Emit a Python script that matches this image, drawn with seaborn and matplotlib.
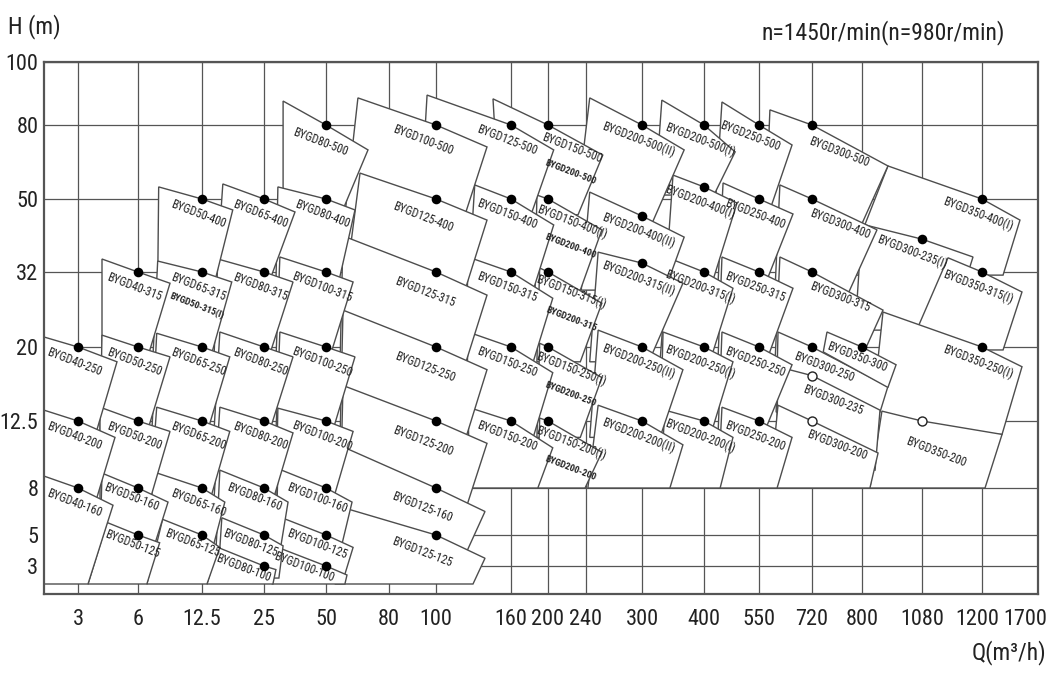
import numpy as np
import matplotlib
matplotlib.use("Agg")
import matplotlib.pyplot as plt
import matplotlib.transforms as mtransforms
import seaborn as sns

# grid values of the selection chart
q_ticks = [3, 6, 12.5, 25, 50, 80, 100, 160, 200, 240, 300, 400, 550, 720, 800, 1080, 1200, 1700]
q_labels = ["3", "6", "12.5", "25", "50", "80", "100", "160", "200", "240", "300", "400",
            "550", "720", "800", "1080", "1200", "1700"]
h_ticks = [3, 5, 8, 12.5, 20, 32, 50, 80, 100]
h_labels = ["3", "5", "8", "12.5", "20", "32", "50", "80", "100"]

# pump models, in drawing order (later ones lie on top)
pump_names = [
    "BYGD350-400(I)", "BYGD300-235(I)", "BYGD350-315(I)", "BYGD350-250(I)", "BYGD350-200",
    "BYGD300-500", "BYGD300-400", "BYGD300-315", "BYGD300-250", "BYGD350-300", "BYGD300-235", "BYGD300-200",
    "BYGD250-500", "BYGD250-400", "BYGD250-315", "BYGD250-250", "BYGD250-200",
    "BYGD200-500(I)", "BYGD200-400(I)", "BYGD200-315(I)", "BYGD200-250(I)", "BYGD200-200(I)",
    "BYGD200-500(II)", "BYGD200-400(II)", "BYGD200-315(II)", "BYGD200-250(II)", "BYGD200-200(II)",
    "BYGD150-500", "BYGD150-400(I)", "BYGD150-315(I)", "BYGD150-250(I)", "BYGD150-200(I)",
    "BYGD125-500", "BYGD150-400", "BYGD150-315", "BYGD150-250", "BYGD150-200",
    "BYGD100-500", "BYGD125-400", "BYGD125-315", "BYGD125-250", "BYGD125-200", "BYGD125-160", "BYGD125-125",
    "BYGD80-500", "BYGD80-400", "BYGD100-315", "BYGD100-250", "BYGD100-200", "BYGD100-160", "BYGD100-125", "BYGD100-100",
    "BYGD65-400", "BYGD80-315", "BYGD80-250", "BYGD80-200", "BYGD80-160", "BYGD80-125", "BYGD80-100",
    "BYGD50-400", "BYGD65-315", "BYGD65-250", "BYGD65-200", "BYGD65-160", "BYGD65-125",
    "BYGD40-315", "BYGD50-250", "BYGD50-200", "BYGD50-160", "BYGD50-125",
    "BYGD40-250", "BYGD40-200", "BYGD40-160",
]

# second model sharing the same tile
sub_names = {
    "BYGD150-500": "BYGD200-500", "BYGD150-400(I)": "BYGD200-400", "BYGD150-315(I)": "BYGD200-315",
    "BYGD150-250(I)": "BYGD200-250", "BYGD150-200(I)": "BYGD200-200", "BYGD65-315": "BYGD50-315(I)",
}

# rated points (Q m3/h, H m)
duty_q = [1200, 1080, 1200, 1200, 1080,
          720, 720, 720, 720, 800, 720, 720,
          550, 550, 550, 550, 550,
          400, 400, 400, 400, 400,
          300, 300, 300, 300, 300,
          200, 200, 200, 200, 200,
          160, 160, 160, 160, 160,
          100, 100, 100, 100, 100, 100, 100,
          50, 50, 50, 50, 50, 50, 50, 50,
          25, 25, 25, 25, 25, 25, 25,
          12.5, 12.5, 12.5, 12.5, 12.5, 12.5,
          6, 6, 6, 6, 6,
          3, 3, 3]
duty_h = [50, 40.1, 32, 20, 12.5,
          80, 50, 32, 20, 20, 17.1, 12.5,
          80, 50, 32, 20, 12.5,
          80, 54.9, 32, 20, 12.5,
          80, 45.8, 34.2, 20, 12.5,
          80, 50, 32, 20, 12.5,
          80, 50, 32, 20, 12.5,
          80, 50, 32, 20, 12.5, 8, 5,
          80, 50, 32, 20, 12.5, 8, 5, 3,
          50, 32, 20, 12.5, 8, 5, 3,
          50, 32, 20, 12.5, 8, 5,
          32, 20, 12.5, 8, 5,
          20, 12.5, 8]
open_points = ["BYGD350-200", "BYGD300-235", "BYGD300-200"]

# tile corners: top-left, top-right, bottom-right, bottom-left
box_q = [
    [921, 1539, 1388, 773], [800, 1182, 1136, 789], [1132, 1557, 1388, 1015], [898, 1557, 1379, 837],
    [893, 1379, 1227, 837],
    [585, 921, 794, 569], [617, 870, 779, 601], [617, 898, 794, 601], [611, 921, 884, 605],
    [744, 959, 921, 738], [611, 884, 861, 605], [611, 875, 837, 585],
    [449, 656, 585, 430], [452, 659, 569, 438], [449, 659, 573, 438], [449, 656, 560, 438], [449, 656, 608, 438],
    [332, 485, 427, 321], [350, 490, 416, 337], [342, 479, 416, 329], [334, 479, 416, 329], [337, 479, 444, 329],
    [244, 368, 315, 228], [244, 368, 337, 235], [253, 366, 311, 244], [253, 366, 329, 244], [253, 366, 345, 242],
    [145.6, 258, 231.6, 151], [188, 257, 234, 186], [191, 257, 234, 188], [191, 257, 234, 188], [191, 257, 239, 189],
    [96.2, 206, 181.6, 93.2], [131, 206, 184, 125.6], [125.6, 205, 184, 124], [125.6, 205, 184, 124],
    [125.6, 205, 189, 127],
    [65.2, 140.8, 123.2, 59], [66.2, 140.8, 123.2, 59], [58.1, 140.8, 124, 56.7], [58.1, 140.8, 124, 56.7],
    [58.1, 140.8, 124.8, 56.7], [54.3, 139.2, 121.6, 54.3], [54.3, 139.2, 129.6, 54.3],
    [32.7, 70, 57.6, 32.7], [30.6, 63.8, 55.7, 29.8], [31.4, 62.9, 51.4, 29.8], [31.4, 63.8, 52.9, 29.8],
    [30.6, 62.9, 53.3, 29.8], [30.6, 62.4, 56.7, 29.8], [31.4, 62.9, 58.1, 30.6], [30.6, 60, 59, 28.2],
    [16.7, 37.5, 26.6, 15.3], [15.7, 36.7, 26.6, 14.9], [16.1, 36.7, 27, 14.9], [16.1, 36.7, 28.6, 14.9],
    [16.1, 34.7, 31.4, 15.3], [16.5, 32.7, 31, 15.7], [15.7, 29.8, 28.6, 13.5],
    [8.1, 18.7, 14.9, 8.0], [8.0, 18.5, 14.1, 7.5], [7.9, 18.1, 13.5, 7.4], [7.9, 18.1, 14.1, 7.2],
    [7.5, 17.1, 14.7, 7.2], [8.5, 16.1, 13.5, 6.9],
    [4.2, 9.25, 6.9, 4.2], [4.2, 9.25, 6.9, 4.1], [4.1, 9.25, 7.2, 4.1], [4.2, 9.05, 7.6, 4.1], [4.45, 8.2, 6.9, 3.5],
    [2, 4.95, 3.9, 2], [2, 4.85, 3.9, 2], [2, 4.75, 3.5, 2],
]
box_h = [
    [63.4, 44.8, 31.5, 31.5], [43.8, 35.7, 22.7, 22.7], [35.5, 28.8, 19.7, 19.7], [25.6, 18.0, 11.6, 11.6],
    [13.5, 11.6, 8, 8],
    [84.8, 63.4, 41.9, 41.9], [55.7, 42.4, 28.8, 28.8], [35.7, 25.9, 18.2, 18.2], [22.4, 16.0, 13.4, 13.4],
    [22.4, 18.2, 15.9, 19.5], [18.0, 13.6, 9.2, 9.2], [14.1, 10.35, 8, 8],
    [87.3, 71.9, 47.3, 47.3], [56.5, 46.3, 29.9, 29.9], [35.7, 29.4, 18.5, 18.5], [22.4, 18.2, 11.4, 11.4],
    [13.9, 11.4, 8, 8],
    [87.9, 69.1, 51.6, 51.6], [59.7, 49.0, 29.1, 29.1], [35.5, 29.4, 18.5, 18.5], [22.4, 18.5, 11.4, 11.4],
    [13.6, 11.4, 8, 8],
    [88.6, 69.9, 43.6, 43.6], [52.8, 40.6, 29.1, 29.1], [36.9, 30.2, 18.5, 18.5], [22.7, 17.7, 11.4, 11.4],
    [14.1, 10.9, 8, 8],
    [88.3, 67.8, 46.1, 46.1], [51.6, 42.4, 29.1, 29.1], [33.0, 27.0, 18.5, 18.5], [20.6, 16.9, 11.4, 11.4],
    [12.8, 10.4, 8, 8],
    [89.5, 69.9, 46.1, 46.1], [55.7, 43.6, 29.1, 29.1], [35.7, 27.8, 18.5, 18.5], [22.4, 17.4, 11.4, 11.4],
    [13.9, 10.7, 8, 8],
    [88.6, 71.1, 46.1, 46.1], [60.5, 44.8, 29.1, 29.1], [40.9, 28.3, 18.5, 18.5], [25.9, 17.7, 11.4, 11.4],
    [16.1, 11.0, 6.9, 6.9], [11.0, 6.5, 3.4, 3.4], [6.9, 3.5, 2, 2],
    [87.6, 69.9, 46.8, 46.8], [54.9, 47.3, 29.9, 29.9], [35.7, 30.4, 18.7, 18.7], [22.4, 19.0, 11.7, 11.7],
    [13.8, 11.8, 7.2, 7.2], [9.3, 7.1, 3.9, 3.9], [6.15, 4.2, 2.2, 2.2], [4.2, 2.5, 2, 2],
    [56.1, 46.8, 29.9, 29.9], [35.2, 30.4, 18.7, 18.7], [22.4, 19.0, 11.7, 11.7], [13.9, 11.7, 7.2, 7.2],
    [9.2, 7.1, 3.9, 3.9], [6.1, 4.3, 2.33, 2.33], [4.2, 2.8, 2, 2],
    [54.9, 47.3, 29.9, 29.9], [34.7, 30.4, 18.7, 18.7], [22.2, 19.0, 11.7, 11.7], [13.9, 11.8, 7.2, 7.2],
    [9.1, 7.1, 4.2, 4.2], [6.0, 4.2, 2, 2],
    [35.2, 30.2, 18.7, 18.7], [21.9, 19.0, 11.7, 11.7], [13.9, 11.8, 7.2, 7.2], [9.0, 7.1, 4.2, 4.2],
    [5.8, 4.5, 2, 2],
    [21.6, 18.5, 11.7, 11.7], [13.6, 11.4, 7.2, 7.2], [8.8, 6.9, 2, 2],
]

# ---- layout: where each grid value sits on the drawing (pixels) ----
q_knots = [2] + q_ticks
q_pos = [44, 78, 138, 202, 264, 326, 389, 436, 511, 548, 586, 642, 704, 759, 812, 862, 922, 982, 1038]
h_knots = [1.5, 2, 3, 5, 8, 12.5, 20, 32, 50, 80, 100]
h_pos = [0, 10, 28, 59, 106, 173, 247, 322, 395, 469, 532]

# label offsets in pixels (right, down) from the rated point
label_default = (-4, 15)
label_off = {
    "BYGD300-500": (27, 27), "BYGD300-400": (28, 25), "BYGD300-315": (28, 25),
    "BYGD300-250": (12, 20), "BYGD300-235": (21, 24), "BYGD300-200": (25, 24), "BYGD350-200": (14, 31),
    "BYGD350-300": (-5, 10), "BYGD300-235(I)": (-10, 13), "BYGD250-500": (-9, 11),
    "BYGD150-500": (24, 23), "BYGD150-400(I)": (24, 23), "BYGD150-315(I)": (23, 20),
    "BYGD150-250(I)": (23, 22), "BYGD150-200(I)": (23, 22),
    "BYGD100-500": (-13, 15), "BYGD125-400": (-13, 18), "BYGD125-315": (-11, 20), "BYGD125-250": (-11, 20),
    "BYGD125-200": (-13, 20), "BYGD125-160": (-14, 19), "BYGD125-125": (-14, 17),
    "BYGD80-500": (-6, 17), "BYGD80-100": (-21, 2), "BYGD100-100": (-22, 1), "BYGD80-125": (-14, 8),
    "BYGD65-125": (-10, 8), "BYGD50-160": (-7, 9), "BYGD50-125": (-6, 9), "BYGD80-160": (-10, 9),
    "BYGD100-160": (-9, 10), "BYGD100-125": (-9, 9),
}
sub_off = {"BYGD65-315": (-5, 34)}
sub_default = (23, 47)

sns.set_style("white")
plt.rcParams["font.family"] = ["Roboto Condensed", "Liberation Sans Narrow", "DejaVu Sans Condensed",
                               "Roboto", "DejaVu Sans"]
plt.rcParams["font.stretch"] = "condensed"

fig = plt.figure(figsize=(10.58, 6.73), dpi=100)
ax = fig.add_axes([44 / 1058, 79 / 673, 994 / 1058, 532 / 673])

edge = "#4d4d4d"
ink = "#222222"
for i, name in enumerate(pump_names):
    xs = [box_q[i][0], duty_q[i], box_q[i][1], box_q[i][2], box_q[i][3]]
    ys = [box_h[i][0], duty_h[i], box_h[i][1], box_h[i][2], box_h[i][3]]
    ax.fill(xs, ys, facecolor="white", edgecolor=edge, lw=1.0, zorder=2)
    dx, dy = label_off.get(name, label_default)
    ax.annotate(name, xy=(duty_q[i], duty_h[i]), xytext=(dx, -dy), textcoords="offset pixels",
                ha="center", va="center", rotation=-21, rotation_mode="anchor",
                fontsize=8.5, color=ink, zorder=4)
    if name in sub_names:
        sx, sy = sub_off.get(name, sub_default)
        ax.annotate(sub_names[name], xy=(duty_q[i], duty_h[i]), xytext=(sx, -sy),
                    textcoords="offset pixels", ha="center", va="center", rotation=-21,
                    rotation_mode="anchor", fontsize=6.8, fontweight="bold", color=ink, zorder=4)

is_open = np.array([n in open_points for n in pump_names])
dq = np.array(duty_q)
dh = np.array(duty_h)
sns.scatterplot(x=dq[~is_open], y=dh[~is_open], color="black", s=48, edgecolor="black",
                linewidth=0, zorder=5, ax=ax)
sns.scatterplot(x=dq[is_open], y=dh[is_open], color="white", s=42, edgecolor=ink,
                linewidth=1.0, zorder=5, ax=ax)

ax.set_xscale("function", functions=(lambda v: np.interp(v, q_knots, q_pos),
                                     lambda p: np.interp(p, q_pos, q_knots)))
ax.set_yscale("function", functions=(lambda v: np.interp(v, h_knots, h_pos),
                                     lambda p: np.interp(p, h_pos, h_knots)))
ax.set_xlim(2, 1700)
ax.set_ylim(1.5, 100)

ax.set_xticks(q_ticks)
ax.set_xticklabels(q_labels)
ax.set_yticks(h_ticks)
ax.set_yticklabels(h_labels)
ax.minorticks_off()
ax.tick_params(length=0, labelsize=16, colors=ink)
ax.tick_params(axis="x", pad=11)
ax.tick_params(axis="y", pad=4)
xl = ax.xaxis.get_majorticklabels()
xl[-1].set_horizontalalignment("right")
xl[-1].set_transform(xl[-1].get_transform() + mtransforms.ScaledTranslation(9 / 100, 0, fig.dpi_scale_trans))
xl[-2].set_transform(xl[-2].get_transform() + mtransforms.ScaledTranslation(-5 / 100, 0, fig.dpi_scale_trans))
ax.grid(True, color="#555555", lw=0.9)
ax.set_axisbelow(True)
for s in ax.spines.values():
    s.set_color("#555555")
    s.set_linewidth(1.6)
ax.set_xlabel("")
ax.set_ylabel("")

fig.text(8 / 1058, 1 - 27 / 673, "H (m)", ha="left", va="center", fontsize=17, color=ink)
fig.text(1005 / 1058, 1 - 33 / 673, "n=1450r/min(n=980r/min)", ha="right", va="center",
         fontsize=17, color=ink)
fig.text(1046 / 1058, 1 - 653 / 673, "Q(m³/h)", ha="right", va="center", fontsize=17, color=ink)

fig.savefig("out.png", dpi=100)
